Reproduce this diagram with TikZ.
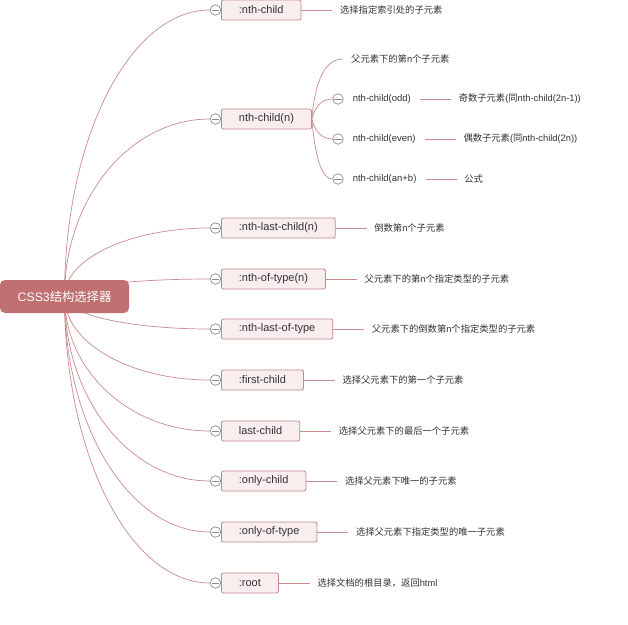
\documentclass[tikz,border=0pt]{standalone}
\usepackage{fontspec}
\setmainfont{Liberation Sans}
\newfontfamily\cjk{Noto Sans CJK SC}
\usetikzlibrary{calc,positioning,backgrounds}
\definecolor{rootfill}{HTML}{C07070}
\definecolor{boxfill}{HTML}{F8EEEE}
\definecolor{boxline}{HTML}{C4878C}
\definecolor{conncol}{HTML}{C98A90}
\definecolor{txt}{HTML}{333333}
\definecolor{knobcol}{HTML}{8C8C8C}
\begin{document}
\begin{tikzpicture}[x=1pt,y=-1pt,
  rootbox/.style={fill=rootfill, rounded corners=5pt, minimum width=129pt, minimum height=33pt,
    text=white, font=\fontsize{12.3}{14}\selectfont, inner sep=0pt},
  itembox/.style={draw=boxline, fill=boxfill, rounded corners=2pt, minimum height=20pt,
    inner xsep=17.5pt, inner ysep=0pt, anchor=west, text=txt,
    font=\fontsize{11}{13}\selectfont, line width=0.8pt},
  knob/.style={circle, draw=knobcol, fill=white, minimum size=10.5pt, inner sep=0pt, line width=0.7pt,
    path picture={\draw[knobcol, line width=0.7pt]
      ([xshift=-3.6pt]path picture bounding box.center) -- ([xshift=3.6pt]path picture bounding box.center);}},
  desc/.style={text=txt, font=\fontsize{9.3}{11}\selectfont, inner xsep=7.5pt, inner ysep=1pt},
  subtxt/.style={text=txt, font=\fontsize{9.5}{11}\selectfont, inner xsep=9pt, inner ysep=1pt, anchor=west},
  link/.style={draw=conncol, line width=0.7pt},
]
\useasboundingbox (0,0) rectangle (628,624);

% root
\node[rootbox] (root) at (64.5,296.5) {CSS3{\cjk 结构选择器}};

% first-level items
\node[knob] (k1) at (215.5,10) {};
\node[itembox] (b1) at (221,10) {:nth-child};
\node[desc, right=31pt of b1] (d1) {\cjk 选择指定索引处的子元素};

\node[knob] (k2) at (215.5,119) {};
\node[itembox] (b2) at (221,119) {nth-child(n)};

\node[knob] (k3) at (215.5,228) {};
\node[itembox] (b3) at (221,228) {:nth-last-child(n)};
\node[desc, right=31pt of b3] (d3) {{\cjk 倒数第}n{\cjk 个子元素}};

\node[knob] (k4) at (215.5,279) {};
\node[itembox] (b4) at (221,279) {:nth-of-type(n)};
\node[desc, right=31pt of b4] (d4) {{\cjk 父元素下的第}n{\cjk 个指定类型的子元素}};

\node[knob] (k5) at (215.5,329) {};
\node[itembox] (b5) at (221,329) {:nth-last-of-type};
\node[desc, right=31pt of b5] (d5) {{\cjk 父元素下的倒数第}n{\cjk 个指定类型的子元素}};

\node[knob] (k6) at (215.5,380) {};
\node[itembox] (b6) at (221,380) {:first-child};
\node[desc, right=31pt of b6] (d6) {\cjk 选择父元素下的第一个子元素};

\node[knob] (k7) at (215.5,431) {};
\node[itembox] (b7) at (221,431) {last-child};
\node[desc, right=31pt of b7] (d7) {\cjk 选择父元素下的最后一个子元素};

\node[knob] (k8) at (215.5,481) {};
\node[itembox] (b8) at (221,481) {:only-child};
\node[desc, right=31pt of b8] (d8) {\cjk 选择父元素下唯一的子元素};

\node[knob] (k9) at (215.5,532) {};
\node[itembox] (b9) at (221,532) {:only-of-type};
\node[desc, right=31pt of b9] (d9) {\cjk 选择父元素下指定类型的唯一子元素};

\node[knob] (k10) at (215.5,583) {};
\node[itembox] (b10) at (221,583) {:root};
\node[desc, right=31pt of b10] (d10) {{\cjk 选择文档的根目录，返回}html};

% second-level items of nth-child(n)
\node[desc, anchor=west, inner xsep=8pt] (s1) at (343,59) {{\cjk 父元素下的第}n{\cjk 个子元素}};

\node[knob] (sk2) at (338,99) {};
\node[subtxt] (s2) at (sk2.east) {nth-child(odd)};
\node[desc, right=31pt of s2] (e2) {{\cjk 奇数子元素}({\cjk 同}nth-child(2n-1))};

\node[knob] (sk3) at (338,139) {};
\node[subtxt] (s3) at (sk3.east) {nth-child(even)};
\node[desc, right=31pt of s3] (e3) {{\cjk 偶数子元素}({\cjk 同}nth-child(2n))};

\node[knob] (sk4) at (338,179) {};
\node[subtxt] (s4) at (sk4.east) {nth-child(an+b)};
\node[desc, right=31pt of s4] (e4) {\cjk 公式};

\begin{scope}[on background layer]
  \fill[white] (0,0) rectangle (628,624);
  \foreach \k in {k1,k2,k3,k4,k5,k6,k7,k8,k9,k10} {
    \path (root.center |- \k.west) coordinate (q);
    \draw[link] (root.center) .. controls ($(root.center)!0.5523!(q)$) and ($(\k.west)!0.5523!(q)$) .. (\k.west);
  }
  \coordinate (sx) at (317,0);
  \foreach \k in {s1,sk2,sk3,sk4} {
    \path (sx |- \k.west) coordinate (q);
    \draw[link] (b2.east) .. controls ($(b2.east)!0.6667!(q)$) and ($(\k.west)!0.6667!(q)$) .. (\k.west);
  }
  \foreach \a/\b in {b1/d1,b3/d3,b4/d4,b5/d5,b6/d6,b7/d7,b8/d8,b9/d9,b10/d10,s2/e2,s3/e3,s4/e4} {
    \draw[link] (\a.east) -- (\b.west);
  }
\end{scope}
\end{tikzpicture}
\end{document}
